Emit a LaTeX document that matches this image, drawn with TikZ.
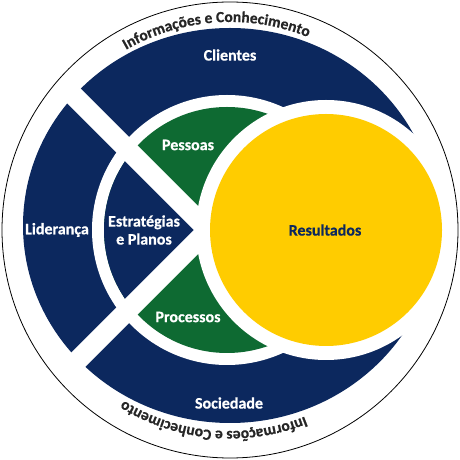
\documentclass[tikz,border=0pt]{standalone}
\usepackage{fontspec}
\setmainfont{Carlito}[BoldFeatures={FakeBold=0.5}]
\usetikzlibrary{decorations.text}

\definecolor{mebnavy}{RGB}{12,40,94}
\definecolor{mebgreen}{RGB}{14,106,50}
\definecolor{mebyellow}{RGB}{255,204,0}

\begin{document}
\begin{tikzpicture}[
    x=1pt, y=1pt,
    area/.style={text=white, font=\fontsize{16}{18}\selectfont\bfseries, align=center},
    band/.style={white, line width=20pt},
    arclabel/.style={decorate, decoration={text along path, text align=center,
        text color=black!85, text={|\fontsize{15.5}{17}\selectfont\bfseries|#1}}}
]
    \useasboundingbox (0,0) rectangle (460,460);
    \fill[white] (0,0) rectangle (460,460);

    \coordinate (o) at (230,230);
    \coordinate (ic) at (227,230);
    \coordinate (xc) at (208,230);
    \coordinate (yc) at (326,230);
    \path (xc) ++(135:205) coordinate (ul) (xc) ++(225:205) coordinate (ll);

    % Outer ring
    \fill[mebnavy] (230,234.5) ellipse[x radius=207, y radius=197.5];
    \fill[white] (ic) circle[radius=135];

    % Inner disc
    \fill[mebgreen] (ic) circle[radius=123];
    \begin{scope}
        \clip (ic) circle[radius=123];
        \fill[mebnavy] (xc) -- (ul) -- (ll) -- cycle;
    \end{scope}

    % Gaps
    \draw[band] (xc) -- (ul);
    \draw[band] (xc) -- (ll);

    % Results
    \fill[white] (yc) circle[radius=130];
    \fill[mebyellow] (yc) circle[radius=116];

    \draw[black, line width=0.8pt] (o) circle[radius=228];

    % Labels
    \node[area] (clientes) at (230,405) {Clientes};
    \node[area] (lideranca) at (57,230) {Liderança};
    \node[area] (sociedade) at (229,57) {Sociedade};
    \node[area] (pessoas) at (188,315) {Pessoas};
    \node[area] (estrategias) at (144,230) {Estratégias\\e Planos};
    \node[area] (processos) at (188,143) {Processos};
    \node[area, text=mebnavy] (resultados) at (325,230) {Resultados};

    \path[arclabel={Informações e Conhecimento}]
        (o) ++(154:208) arc[start angle=154, end angle=34, radius=208];
    \path[arclabel={Informações e Conhecimento}]
        (o) ++(-35:201) arc[start angle=-35, end angle=-155, radius=201];
\end{tikzpicture}
\end{document}
